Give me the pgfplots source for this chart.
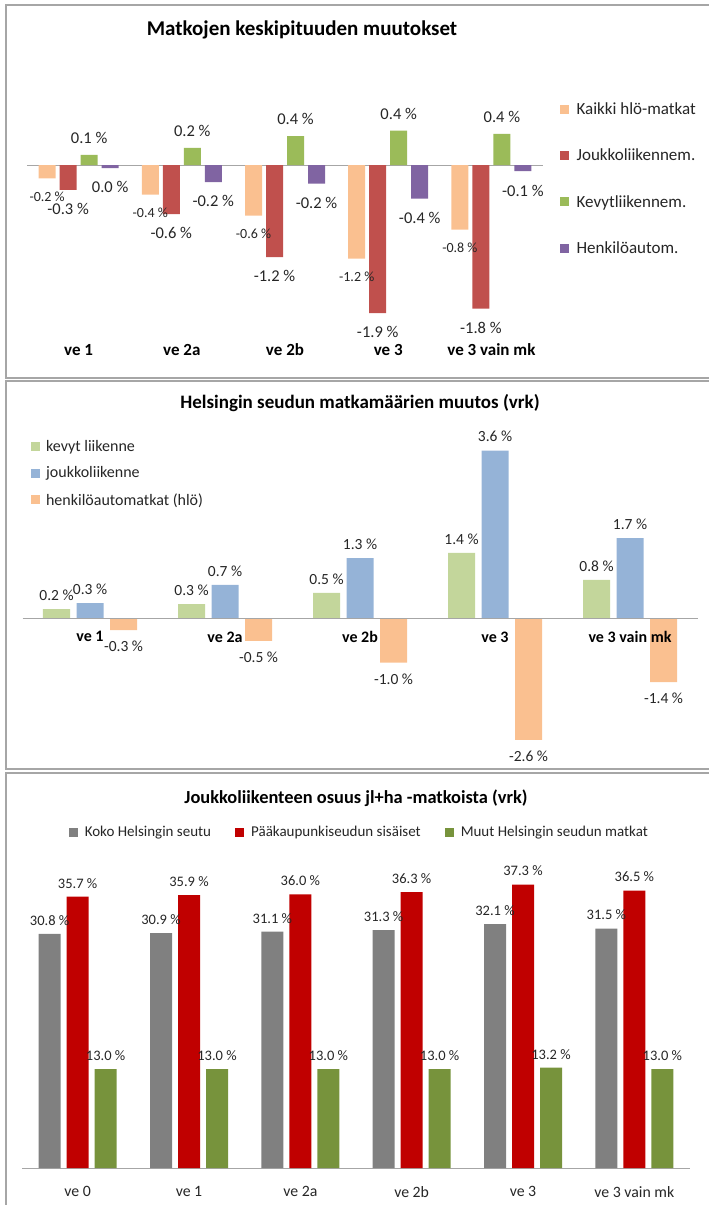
\documentclass[border=0pt]{standalone}
\usepackage{fontspec}
\setmainfont{Carlito}
\usepackage{pgfplots}
\pgfplotsset{compat=1.18}

\definecolor{kaikki}{HTML}{FAC090}
\definecolor{jouk}{HTML}{C0504D}
\definecolor{kevyt}{HTML}{9BBB59}
\definecolor{henk}{HTML}{8064A2}
\definecolor{kev2}{HTML}{C3D69B}
\definecolor{jl2}{HTML}{95B3D7}
\definecolor{ha2}{HTML}{FAC090}
\definecolor{koko}{HTML}{808080}
\definecolor{pks}{HTML}{C00000}
\definecolor{muut}{HTML}{77933C}
\definecolor{frame}{HTML}{A6A6A6}
\definecolor{txt}{HTML}{262626}

\newcommand{\fs}[1]{\fontsize{#1}{#1}\selectfont}

\pgfplotsset{
  panel/.style={
    scale only axis, enlargelimits=false,
    ytick=\empty, major tick length=0pt,
    point meta=explicit symbolic, nodes near coords,
    legend cell align=left,
  },
  sq/.style={
    legend image code/.code={\draw[##1,draw=none] (0pt,-4.5pt) rectangle (9pt,4.5pt);},
  },
  pos/.style={every node near coord/.append style={anchor=south, yshift=#1}},
  neg/.style={every node near coord/.append style={anchor=north, yshift=-#1}},
}

\begin{document}
\begin{tikzpicture}
\useasboundingbox (0,0) rectangle (709pt,-1205pt);

% ---- panel 1
\begin{axis}[panel,
  at={(27pt,-340.5pt)}, anchor=south west,
  width=516pt, height=253.5pt,
  xmin=-0.5, xmax=4.5, ymin=-2.25, ymax=1.0,
  ybar=4pt, bar width=17pt,
  axis line style={draw=none},
  xtick={0,...,4}, xticklabels={ve 1,ve 2a,ve 2b,ve 3,ve 3 vain mk},
  xticklabel style={font=\fs{17}\bfseries, text=black},
  extra y ticks={0}, extra y tick labels={},
  extra y tick style={grid=major, major grid style={draw=frame, line width=1pt}},
  every node near coord/.append style={font=\fs{16.5}, text=txt},
  legend style={at={(1.026,0.955)}, anchor=north west, draw=none,
    font=\fs{17}, text=txt, row sep=29pt,
    /tikz/every odd column/.append style={column sep=6pt}},
  sq,
]
\addplot[fill=kaikki, draw=none, neg=10pt, every node near coord/.append style={font=\fs{14}}]
  coordinates {(0,-0.17)[-0.2 \%] (1,-0.38)[-0.4 \%] (2,-0.65)[-0.6 \%] (3,-1.20)[-1.2 \%] (4,-0.83)[-0.8 \%]};
\addplot[fill=jouk, draw=none, neg=10pt]
  coordinates {(0,-0.32)[-0.3 \%] (1,-0.63)[-0.6 \%] (2,-1.18)[-1.2 \%] (3,-1.90)[-1.9 \%] (4,-1.84)[-1.8 \%]};
\addplot[fill=kevyt, draw=none, pos=8pt]
  coordinates {(0,0.13)[0.1 \%] (1,0.22)[0.2 \%] (2,0.37)[0.4 \%] (3,0.44)[0.4 \%] (4,0.40)[0.4 \%]};
\addplot[fill=henk, draw=none, neg=10pt]
  coordinates {(0,-0.04)[0.0 \%] (1,-0.22)[-0.2 \%] (2,-0.24)[-0.2 \%] (3,-0.43)[-0.4 \%] (4,-0.08)[-0.1 \%]};
\legend{Kaikki hlö-matkat, Joukkoliikennem., Kevytliikennem., Henkilöautom.}
\end{axis}

% ---- panel 2
\begin{axis}[panel,
  at={(22.5pt,-757.5pt)}, anchor=south west,
  width=675pt, height=325.5pt,
  xmin=-0.5, xmax=4.5, ymin=-3, ymax=4,
  ybar=6.5pt, bar width=27pt,
  axis on top,
  axis x line=middle, axis y line=none,
  axis line style={draw=frame, line width=1pt, -},
  xtick={0,...,4}, xticklabels={ve 1,ve 2a,ve 2b,ve 3,ve 3 vain mk},
  xticklabel style={font=\fs{16}\bfseries, text=black, yshift=-10pt},
  every node near coord/.append style={font=\fs{15.5}, text=txt},
  legend style={at={(0.008,0.988)}, anchor=north west, draw=none,
    font=\fs{16}, text=txt, row sep=10pt,
    /tikz/every odd column/.append style={column sep=4pt}},
  sq,
]
\addplot[fill=kev2, draw=none, pos=5pt]
  coordinates {(0,0.19)[0.2 \%] (1,0.30)[0.3 \%] (2,0.54)[0.5 \%] (3,1.40)[1.4 \%] (4,0.82)[0.8 \%]};
\addplot[fill=jl2, draw=none, pos=5pt]
  coordinates {(0,0.32)[0.3 \%] (1,0.71)[0.7 \%] (2,1.29)[1.3 \%] (3,3.60)[3.6 \%] (4,1.72)[1.7 \%]};
\addplot[fill=ha2, draw=none, neg=7.5pt]
  coordinates {(0,-0.26)[-0.3 \%] (1,-0.49)[-0.5 \%] (2,-0.96)[-1.0 \%] (3,-2.62)[-2.6 \%] (4,-1.38)[-1.4 \%]};
\legend{kevyt liikenne, joukkoliikenne, henkilöautomatkat (hlö)}
\end{axis}

% ---- panel 3
\begin{axis}[panel,
  at={(22pt,-1168pt)}, anchor=south west,
  width=668pt, height=304pt,
  xmin=-0.5, xmax=5.5, ymin=0, ymax=40,
  ybar=6pt, bar width=22pt,
  axis x line=bottom, axis y line=none,
  axis line style={draw=frame, line width=1pt, -},
  xtick={0,...,5}, xticklabels={ve 0,ve 1,ve 2a,ve 2b,ve 3,ve 3 vain mk},
  xticklabel style={font=\fs{15.8}, text=txt, yshift=-15pt},
  every node near coord/.append style={font=\fs{14.5}, text=txt},
  legend columns=3,
  legend style={at={(0.505,1.105)}, anchor=center, draw=none,
    font=\fs{15}, text=txt,
    /tikz/every odd column/.append style={column sep=5pt},
    /tikz/every even column/.append style={column sep=22pt}},
  sq,
]
\addplot[fill=koko, draw=none, pos=5pt]
  coordinates {(0,30.8)[30.8 \%] (1,30.9)[30.9 \%] (2,31.1)[31.1 \%] (3,31.3)[31.3 \%] (4,32.1)[32.1 \%] (5,31.5)[31.5 \%]};
\addplot[fill=pks, draw=none, pos=5pt]
  coordinates {(0,35.7)[35.7 \%] (1,35.9)[35.9 \%] (2,36.0)[36.0 \%] (3,36.3)[36.3 \%] (4,37.3)[37.3 \%] (5,36.5)[36.5 \%]};
\addplot[fill=muut, draw=none, pos=5pt]
  coordinates {(0,13.0)[13.0 \%] (1,13.0)[13.0 \%] (2,13.0)[13.0 \%] (3,13.0)[13.0 \%] (4,13.2)[13.2 \%] (5,13.0)[13.0 \%]};
\legend{Koko Helsingin seutu, Pääkaupunkiseudun sisäiset, Muut Helsingin seudun matkat}
\end{axis}

% titles
\node[font=\fs{21}\bfseries] at (302pt,-30pt) {Matkojen keskipituuden muutokset};
\node[font=\fs{19}\bfseries] at (360pt,-403pt) {Helsingin seudun matkamäärien muutos (vrk)};
\node[font=\fs{18.4}\bfseries] at (356pt,-798pt) {Joukkoliikenteen osuus jl+ha -matkoista (vrk)};

% panel frames
\draw[frame, line width=1.5pt] (6pt,-5pt) rectangle (720pt,-378pt);
\draw[frame, line width=1.5pt] (6pt,-381pt) rectangle (720pt,-769pt);
\draw[frame, line width=1.5pt] (6pt,-773pt) rectangle (720pt,-1215pt);
\end{tikzpicture}
\end{document}
